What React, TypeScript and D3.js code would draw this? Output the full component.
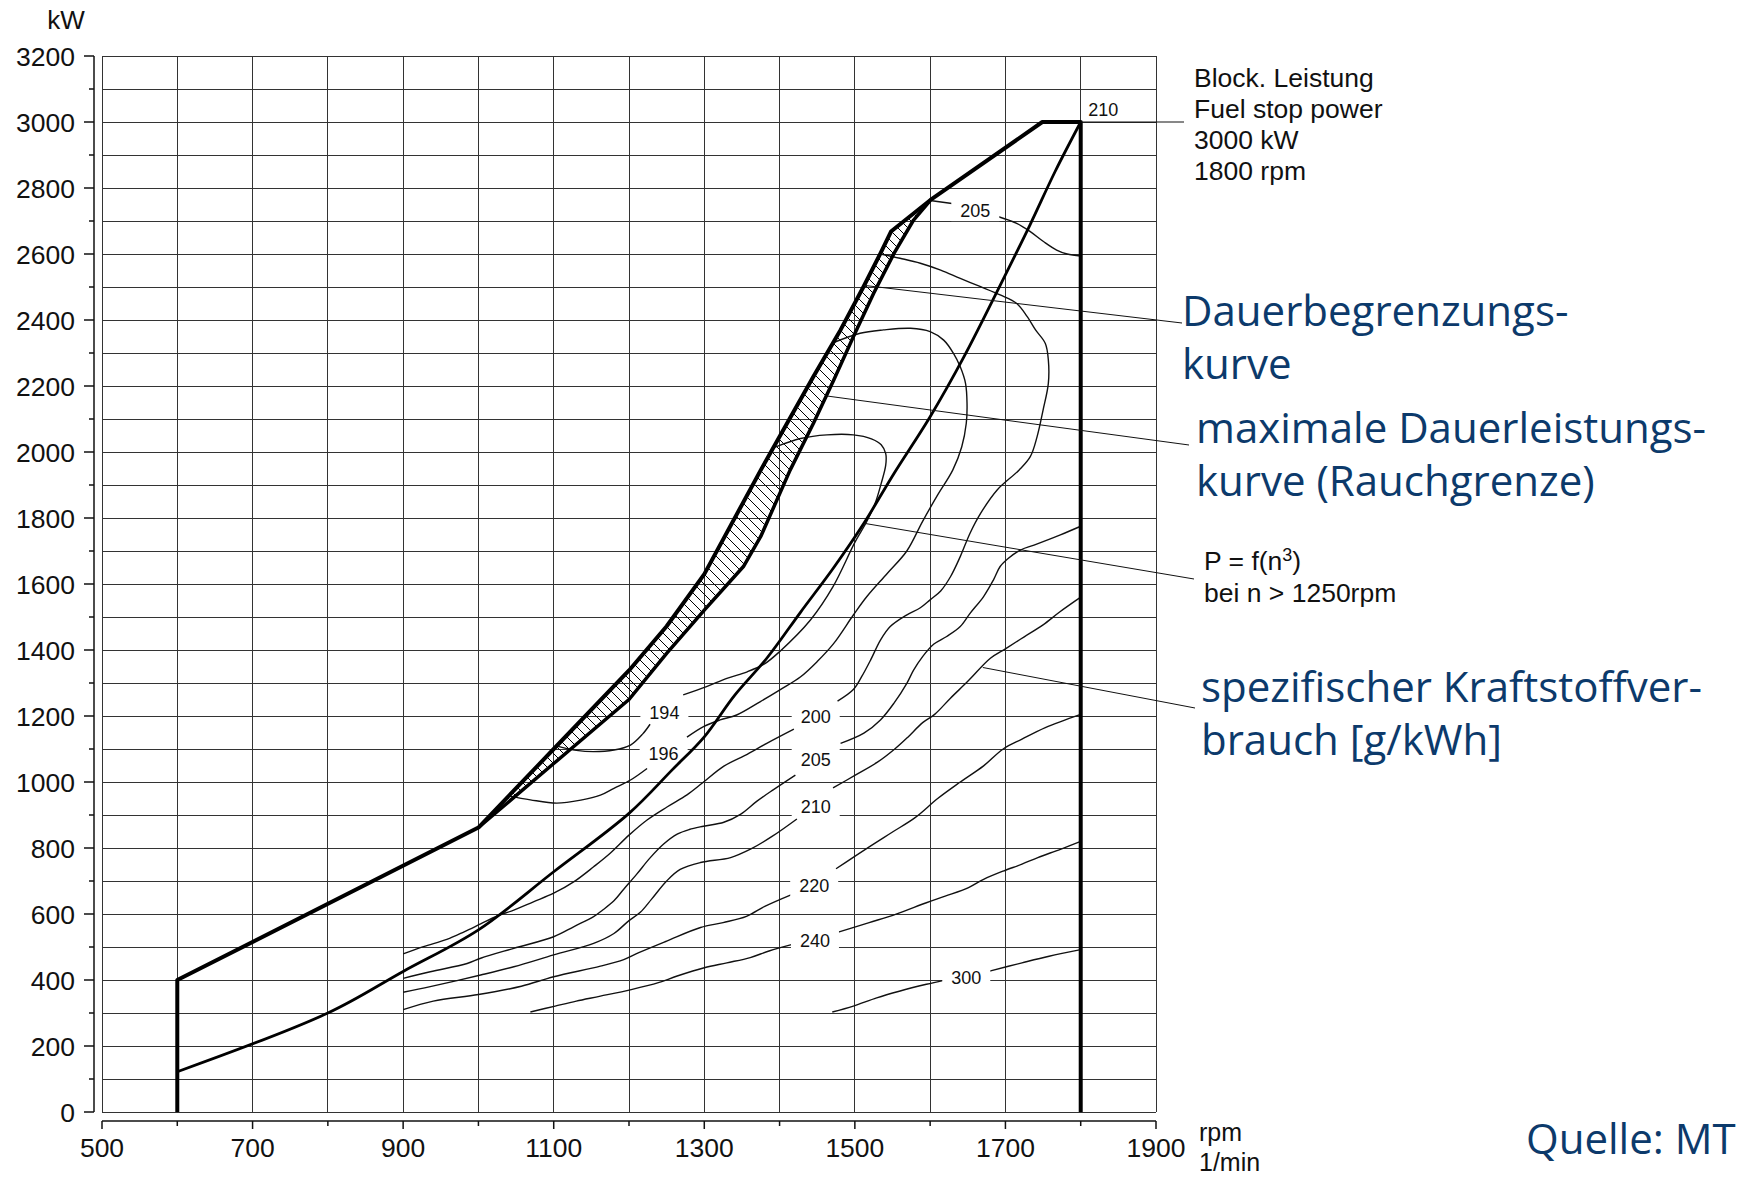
import React from "react";
import * as d3 from "d3";

type P = [number, number];

// ---- axes ----
const X_DOMAIN: P = [500, 1900];
const Y_DOMAIN: P = [0, 3200];
const X_TICK_LABELS = [500, 700, 900, 1100, 1300, 1500, 1700, 1900];
const Y_TICK_LABELS = [0, 200, 400, 600, 800, 1000, 1200, 1400, 1600, 1800, 2000, 2200, 2400, 2600, 2800, 3000, 3200];

// ---- limit curves (rpm, kW) ----
const boundaryLeft: P[] = [[600, 0], [600, 400], [1000, 862]];
const upperEdge: P[] = [[1000, 862], [1100, 1100], [1200, 1338], [1250, 1472], [1300, 1630], [1375, 1945], [1410, 2087], [1445, 2229], [1481, 2370], [1512, 2503], [1534, 2602], [1548, 2668], [1600, 2763]];
const boundaryTop: P[] = [[1600, 2763], [1749, 3000], [1800, 3000], [1800, 0]];
const lowerEdge: P[] = [[1000, 862], [1100, 1056], [1200, 1250], [1250, 1390], [1300, 1521], [1352, 1653], [1375, 1744], [1414, 1945], [1445, 2087], [1472, 2218], [1498, 2349], [1525, 2481], [1552, 2602], [1578, 2703], [1600, 2762]];
const propeller: P[] = [[600, 122], [800, 300], [900, 426], [1000, 552], [1100, 728], [1200, 905], [1257, 1036], [1300, 1137], [1340, 1262], [1383, 1375], [1428, 1515], [1472, 1650], [1512, 1784], [1552, 1935], [1600, 2107], [1645, 2289], [1693, 2505], [1733, 2690], [1766, 2850], [1800, 3000]];

// ---- BSFC contours (g/kWh) ----
const c194a: P[] = [[1106, 1108], [1130, 1096], [1153, 1092], [1180, 1097], [1202, 1112], [1218, 1145], [1228, 1175]];
const c194b: P[] = [[1272, 1264], [1303, 1289], [1330, 1314], [1357, 1334], [1380, 1358], [1400, 1395], [1441, 1491], [1471, 1592], [1500, 1726], [1516, 1790], [1527, 1845], [1535, 1905], [1541, 1960], [1541, 1995], [1535, 2022], [1522, 2040], [1498, 2052], [1463, 2052], [1428, 2041], [1394, 2015]];
const c196a: P[] = [[1040, 958], [1069, 946], [1104, 936], [1136, 945], [1162, 960], [1180, 981], [1202, 1006], [1224, 1041]];
const c196b: P[] = [[1277, 1136], [1299, 1168], [1321, 1188], [1343, 1203], [1374, 1243], [1401, 1280], [1428, 1319], [1450, 1365], [1472, 1420], [1498, 1506], [1516, 1562], [1543, 1632], [1569, 1700], [1590, 1790], [1610, 1870], [1630, 1945], [1642, 2016], [1648, 2087], [1649, 2147], [1647, 2208], [1640, 2258], [1631, 2299], [1618, 2339], [1600, 2365], [1574, 2375], [1538, 2370], [1507, 2360], [1471, 2331]];
const c200a: P[] = [[900, 479], [927, 501], [958, 523], [981, 546], [1003, 570], [1025, 594], [1047, 612], [1073, 637], [1100, 663], [1127, 698], [1153, 743], [1175, 784], [1200, 839], [1224, 885], [1251, 925], [1277, 961], [1297, 996], [1326, 1048], [1357, 1084], [1383, 1117], [1419, 1160]];
const c200b: P[] = [[1477, 1245], [1498, 1280], [1509, 1319], [1521, 1370], [1534, 1430], [1547, 1471], [1568, 1505], [1587, 1528], [1600, 1552], [1614, 1579], [1627, 1622], [1640, 1683], [1653, 1754], [1667, 1814], [1689, 1885], [1718, 1945], [1733, 1986], [1742, 2046], [1750, 2127], [1757, 2208], [1757, 2279], [1753, 2329], [1740, 2370], [1729, 2410], [1715, 2450], [1693, 2476], [1667, 2501], [1640, 2526], [1614, 2551], [1587, 2572], [1560, 2587], [1534, 2600]];
const c205a: P[] = [[900, 405], [936, 425], [985, 450], [1003, 466], [1047, 496], [1100, 531], [1127, 562], [1153, 592], [1165, 612], [1180, 640], [1193, 675], [1210, 720], [1228, 770], [1246, 812], [1264, 842], [1280, 856], [1299, 866], [1326, 878], [1348, 902], [1370, 942], [1392, 977], [1421, 1021]];
const c205b: P[] = [[1481, 1117], [1512, 1148], [1534, 1188], [1552, 1239], [1569, 1299], [1578, 1339], [1590, 1380], [1605, 1418], [1622, 1441], [1640, 1471], [1653, 1511], [1671, 1562], [1684, 1612], [1693, 1653], [1704, 1678], [1720, 1703], [1738, 1718], [1773, 1749], [1800, 1775]];
const c205topA: P[] = [[1600, 2762], [1629, 2753]];
const c205topB: P[] = [[1691, 2713], [1715, 2693], [1733, 2668], [1751, 2637], [1768, 2612], [1782, 2600], [1800, 2594]];
const c210a: P[] = [[900, 363], [936, 380], [1003, 415], [1047, 440], [1100, 476], [1153, 511], [1180, 541], [1200, 580], [1215, 605], [1230, 645], [1250, 700], [1268, 735], [1295, 756], [1335, 771], [1362, 797], [1390, 835], [1423, 888]];
const c210b: P[] = [[1471, 982], [1500, 1020], [1530, 1060], [1553, 1100], [1570, 1135], [1590, 1180], [1606, 1205], [1627, 1254], [1650, 1305], [1680, 1375], [1701, 1405], [1725, 1440], [1750, 1476], [1772, 1515], [1800, 1560]];
const c220a: P[] = [[900, 310], [940, 336], [1000, 356], [1057, 381], [1100, 410], [1162, 442], [1193, 462], [1213, 483], [1250, 518], [1295, 559], [1325, 574], [1356, 593], [1381, 624], [1416, 659]];
const c220b: P[] = [[1475, 737], [1514, 796], [1549, 847], [1580, 892], [1610, 950], [1640, 1000], [1671, 1049], [1697, 1100], [1722, 1130], [1753, 1165], [1800, 1205]];
const c240a: P[] = [[1069, 303], [1102, 321], [1130, 336], [1162, 351], [1203, 371], [1239, 392], [1264, 412], [1300, 437], [1330, 452], [1361, 468], [1386, 488], [1417, 508]];
const c240b: P[] = [[1478, 545], [1519, 574], [1554, 599], [1595, 634], [1620, 654], [1651, 680], [1671, 705], [1697, 730], [1722, 751], [1743, 771], [1773, 796], [1800, 820]];
const c300a: P[] = [[1470, 303], [1498, 321], [1529, 346], [1559, 366], [1595, 387], [1618, 399]];
const c300b: P[] = [[1679, 427], [1722, 452], [1758, 472], [1800, 492]];

const contours: P[][] = [c194a, c194b, c196a, c196b, c200a, c200b, c205a, c205b, c205topA, c205topB, c210a, c210b, c220a, c220b, c240a, c240b, c300a, c300b];

const contourLabels: { t: string; rpm: number; kw: number }[] = [
  { t: "194", rpm: 1247, kw: 1211 },
  { t: "196", rpm: 1246, kw: 1087 },
  { t: "200", rpm: 1448, kw: 1199 },
  { t: "205", rpm: 1448, kw: 1067 },
  { t: "210", rpm: 1448, kw: 926 },
  { t: "220", rpm: 1446, kw: 686 },
  { t: "240", rpm: 1447, kw: 521 },
  { t: "300", rpm: 1648, kw: 408 },
  { t: "205", rpm: 1660, kw: 2733 },
];
const cornerLabel = { t: "210", rpm: 1810, kw: 3030 };

// ---- annotation leaders: start on a curve (rpm, kW) ----
const leaderFuelStop: P = [1800, 3000];
const leaderDauer: P = [1512, 2505];
const leaderMaxDauer: P = [1462, 2170];
const leaderProp: P = [1512, 1784];
const leaderBsfc: P = [1670, 1347];

const BLUE = "#0c3a6b";
const SANS = "'Liberation Sans', Arial, Helvetica, sans-serif";
const OPEN = "'Open Sans', 'Noto Sans', sans-serif";

export default function App() {
  const W = 1739, H = 1179;
  const x = d3.scaleLinear().domain(X_DOMAIN).range([102, 1156]);
  const y = d3.scaleLinear().domain(Y_DOMAIN).range([1112, 56]);
  const lin = d3.line<P>().x((d) => x(d[0])).y((d) => y(d[1]));
  const smooth = d3.line<P>().x((d) => x(d[0])).y((d) => y(d[1])).curve(d3.curveCatmullRom.alpha(0.5));

  const gridX = d3.range(500, 1901, 100);
  const gridY = d3.range(0, 3201, 100);
  const axisX = 94;
  const axisY = 1121;

  const outer = [...boundaryLeft, ...upperEdge.slice(1), ...boundaryTop.slice(1)];
  const band = [...upperEdge, ...lowerEdge.slice().reverse()];

  return (
    <svg width={W} height={H} style={{ position: "absolute", left: 0, top: 0, background: "#fff" }} xmlns="http://www.w3.org/2000/svg">
      <defs>
        <pattern id="hatch" width="10" height="10" patternUnits="userSpaceOnUse">
          <path d="M-2,-2 L12,12 M-2,8 L2,12 M8,-2 L12,2" stroke="#000" strokeWidth="1" />
        </pattern>
      </defs>
      <rect width={W} height={H} fill="#fff" />

      {/* grid */}
      <g stroke="#333" strokeWidth={1} shapeRendering="crispEdges">
        {gridX.map((v) => (
          <line key={"gx" + v} x1={x(v)} x2={x(v)} y1={y(0)} y2={y(3200)} />
        ))}
        {gridY.map((v) => (
          <line key={"gy" + v} x1={x(500)} x2={x(1900)} y1={y(v)} y2={y(v)} />
        ))}
      </g>

      {/* y axis */}
      <g stroke="#111" strokeWidth={1.5}>
        <line x1={axisX} x2={axisX} y1={y(0)} y2={y(3200)} />
        {gridY.map((v) => (
          <line key={"ty" + v} x1={axisX - (v % 200 === 0 ? 10 : 5)} x2={axisX} y1={y(v)} y2={y(v)} />
        ))}
      </g>
      <g fontFamily={SANS} fontSize={26.5} fill="#111" textAnchor="end">
        {Y_TICK_LABELS.map((v) => (
          <text key={"yl" + v} x={75} y={y(v)} dy="0.36em">{v}</text>
        ))}
      </g>
      <text x={66} y={29} fontFamily={SANS} fontSize={26} textAnchor="middle" fill="#111">kW</text>

      {/* x axis */}
      <g stroke="#111" strokeWidth={1.5}>
        <line x1={x(500)} x2={x(1900)} y1={axisY} y2={axisY} />
        {gridX.map((v) => (
          <line key={"tx" + v} x1={x(v)} x2={x(v)} y1={axisY} y2={axisY + (X_TICK_LABELS.includes(v) ? 8 : 5)} />
        ))}
      </g>
      <g fontFamily={SANS} fontSize={26.5} fill="#111" textAnchor="middle">
        {X_TICK_LABELS.map((v) => (
          <text key={"xl" + v} x={x(v)} y={1157}>{v}</text>
        ))}
      </g>
      <g fontFamily={SANS} fontSize={25} fill="#111">
        <text x={1199} y={1141}>rpm</text>
        <text x={1199} y={1171}>1/min</text>
      </g>

      {/* hatched band */}
      <path d={lin(band) + "Z"} fill="url(#hatch)" stroke="none" />

      {/* contours */}
      <g fill="none" stroke="#111" strokeWidth={1.4}>
        {contours.map((c, i) => (
          <path key={"c" + i} d={smooth(c) || ""} />
        ))}
      </g>

      {/* contour labels */}
      {contourLabels.map((l, i) => (
        <g key={"lb" + i}>
          <rect x={x(l.rpm) - 24} y={y(l.kw) - 11} width={48} height={22} fill="#fff" />
          <text x={x(l.rpm)} y={y(l.kw)} dy="0.36em" textAnchor="middle" fontFamily={SANS} fontSize={18} fill="#111">{l.t}</text>
        </g>
      ))}
      <text x={x(cornerLabel.rpm)} y={y(cornerLabel.kw) + 4} fontFamily={SANS} fontSize={18} fill="#111">{cornerLabel.t}</text>

      {/* thick curves */}
      <path d={smooth(propeller) || ""} fill="none" stroke="#000" strokeWidth={2.8} />
      <path d={lin(lowerEdge) || ""} fill="none" stroke="#000" strokeWidth={3.5} strokeLinejoin="round" />
      <path d={lin(outer) || ""} fill="none" stroke="#000" strokeWidth={4} strokeLinejoin="round" />

      {/* leaders */}
      <g stroke="#111" strokeWidth={1}>
        <line x1={x(leaderFuelStop[0])} y1={y(leaderFuelStop[1])} x2={1184} y2={y(leaderFuelStop[1])} />
        <line x1={x(leaderDauer[0])} y1={y(leaderDauer[1])} x2={1182} y2={323} />
        <line x1={x(leaderMaxDauer[0])} y1={y(leaderMaxDauer[1])} x2={1189} y2={445} />
        <line x1={x(leaderProp[0])} y1={y(leaderProp[1])} x2={1194} y2={579} />
        <line x1={x(leaderBsfc[0])} y1={y(leaderBsfc[1])} x2={1195} y2={708} />
      </g>

      {/* black annotations */}
      <g fontFamily={SANS} fontSize={26.5} fill="#111">
        <text x={1194} y={87}>Block. Leistung</text>
        <text x={1194} y={118}>Fuel stop power</text>
        <text x={1194} y={149}>3000 kW</text>
        <text x={1194} y={180}>1800 rpm</text>
        <text x={1204} y={570}>
          P = f(n<tspan fontSize={18} dy={-9}>3</tspan><tspan dy={9}>)</tspan>
        </text>
        <text x={1204} y={602}>bei n &gt; 1250rpm</text>
      </g>

      {/* blue annotations */}
      <g fontFamily={OPEN} fontSize={42} fill={BLUE}>
        <text x={1182} y={326}>Dauerbegrenzungs-</text>
        <text x={1182} y={379}>kurve</text>
        <text x={1196} y={443}>maximale Dauerleistungs-</text>
        <text x={1196} y={496}>kurve (Rauchgrenze)</text>
        <text x={1201} y={702}>spezifischer Kraftstoffver-</text>
        <text x={1201} y={755}>brauch [g/kWh]</text>
        <text x={1526} y={1154}>Quelle: MT</text>
      </g>
    </svg>
  );
}
